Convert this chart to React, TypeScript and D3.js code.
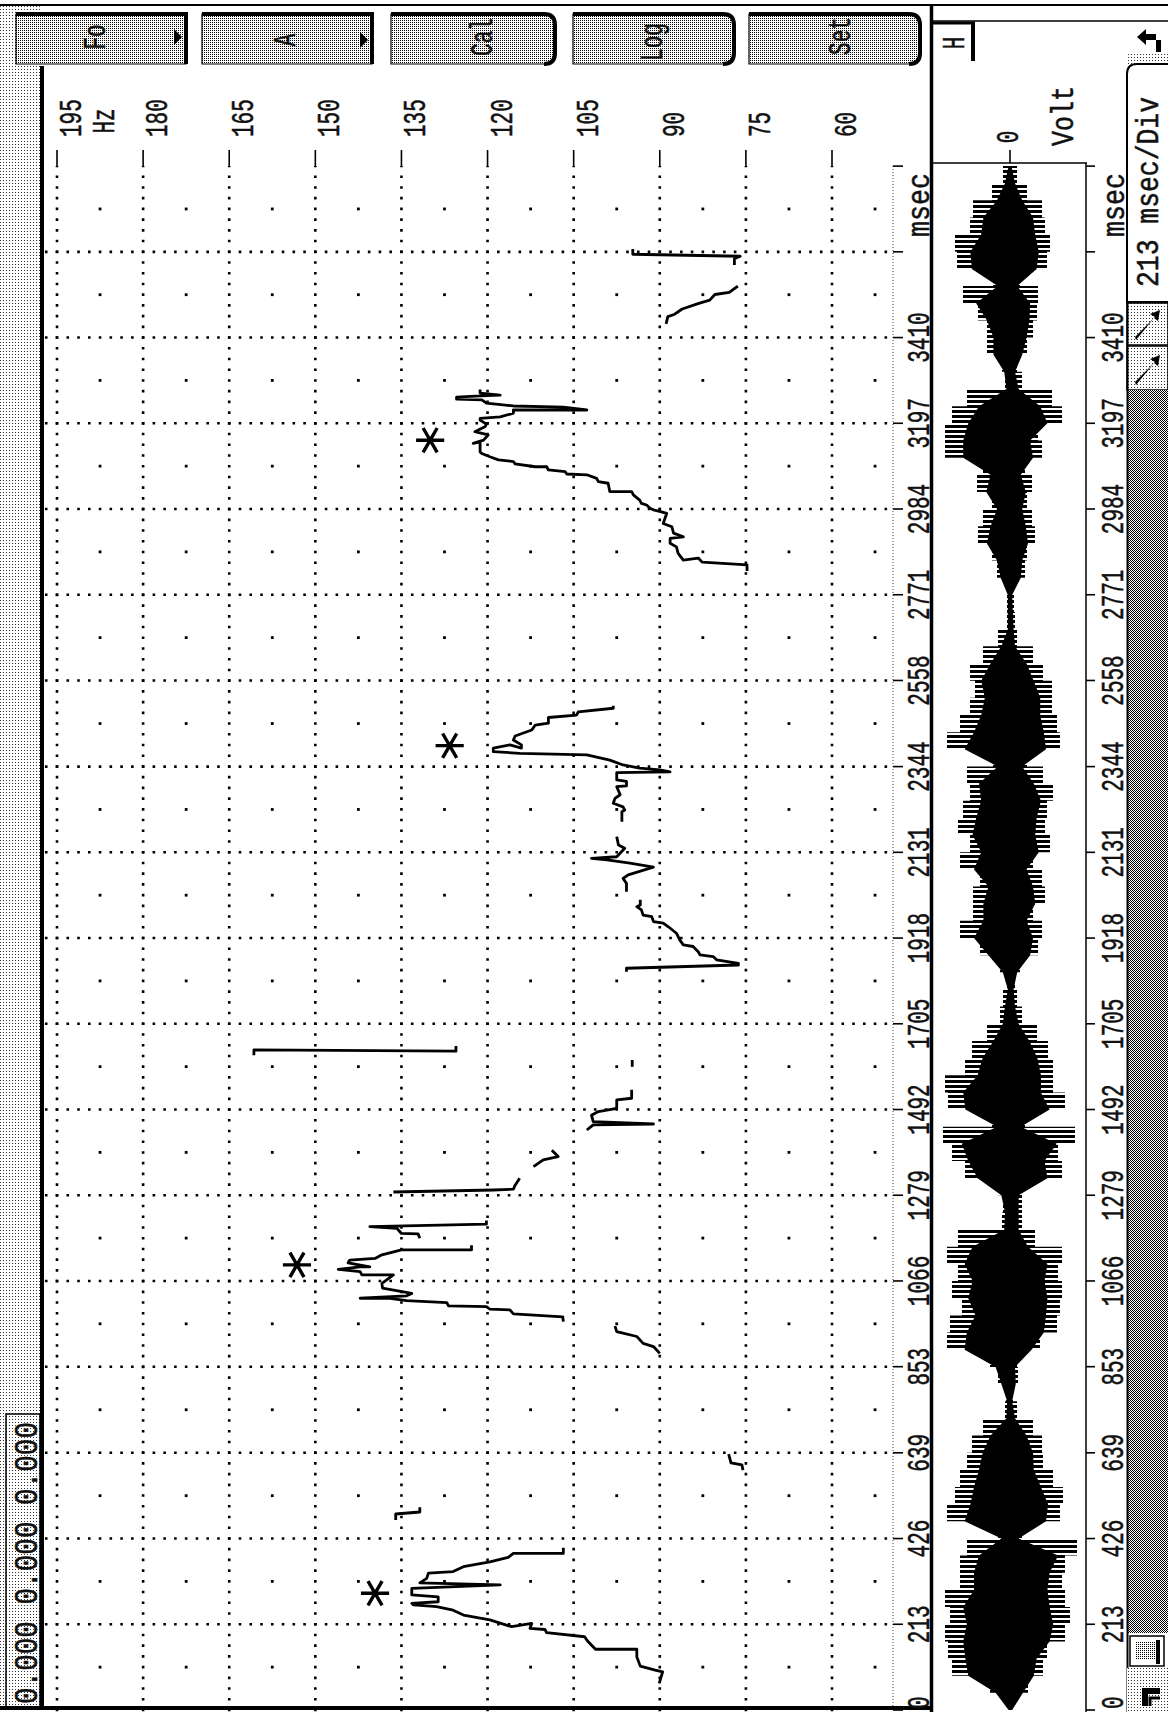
import React from 'react';
import * as d3 from 'd3';

const W = 1168;
const H = 1712;
const MONO = "'Liberation Mono', 'DejaVu Sans Mono', monospace";

// axes
const hzTicks = [195, 180, 165, 150, 135, 120, 105, 90, 75, 60];
const timeTicks = [0, 213, 426, 639, 853, 1066, 1279, 1492, 1705, 1918, 2131, 2344, 2558, 2771, 2984, 3197, 3410, 3623, 3836];
const timeLabels = ['213', '426', '639', '853', '1066', '1279', '1492', '1705', '1918', '2131', '2344', '2558', '2771', '2984', '3197', '3410'];

// F0 contour pieces, [msec, Hz]
const seg01 = [[66, 90.1], [95, 89.5], [99, 90.8], [109, 93.4], [132, 94.0], [151, 94.0], [151, 101.2], [170, 102.5], [182, 103.1], [192, 109.7], [200, 110.0], [203, 112.6], [215, 112.3], [207, 115.8], [224, 119.6], [236, 124.2], [248, 126.0], [257, 128.9], [261, 132.9], [265, 133.2], [269, 128.6], [281, 128.6], [286, 133.2], [302, 133.2], [311, 117.8], [316, 131.8], [327, 130.6], [340, 130.3], [344, 126.0], [356, 124.2], [368, 119.6], [379, 116.4], [389, 115.5], [389, 106.8], [403, 106.8]];
const seg02 = [[472, 136.0], [487, 136.0], [492, 131.8], [504, 131.8]];
const seg03 = [[596, 75.5], [609, 75.7], [614, 77.6], [636, 78.0]];
const seg04 = [[886, 90.0], [903, 91.1], [911, 92.9], [928, 94.0], [940, 97.5], [954, 97.8]];
const seg05 = [[965, 106.8], [977, 106.9], [984, 115.5], [994, 116.1], [996, 119.6], [1002, 120.2], [1004, 126.8], [1012, 127.1], [1017, 134.1], [1023, 137.0], [1023, 142.2], [1029, 134.1], [1035, 133.2], [1048, 138.3], [1060, 138.4], [1081, 136.4], [1081, 141.9], [1089, 142.2], [1095, 146.0], [1101, 142.2], [1101, 140.5], [1111, 144.3], [1118, 144.0], [1122, 139.6], [1131, 138.4], [1143, 135.0], [1143, 122.8], [1155, 122.8]];
const seg06 = [[1172, 131.8], [1183, 132.1], [1184, 135.0], [1197, 135.8], [1201, 140.5], [1207, 120.2], [1216, 120.2]];
const seg07 = [[1287, 136.4], [1292, 119.0], [1294, 115.5], [1304, 115.2], [1321, 114.4]];
const seg08 = [[1350, 112.0], [1367, 110.3], [1375, 107.7], [1391, 108.8]];
const seg09 = [[1441, 102.7], [1454, 101.6], [1456, 91.1], [1462, 101.6], [1478, 101.9], [1487, 100.7], [1495, 97.5], [1516, 97.5], [1520, 94.9], [1541, 94.9]];
const seg10 = [[1598, 94.8], [1615, 94.8]];
const seg11 = [[1627, 160.7], [1640, 160.7], [1637, 125.5], [1650, 125.5]];
const seg12 = [[1834, 95.8], [1843, 95.8], [1851, 76.3], [1855, 76.3], [1864, 80.1], [1872, 80.7], [1876, 83.0], [1884, 83.3], [1897, 84.2], [1901, 85.9], [1913, 86.5], [1930, 87.1], [1946, 88.5], [1955, 89.4], [1959, 91.1], [1971, 91.4], [1975, 92.9], [1988, 93.2], [1996, 94.0], [2000, 93.4], [2013, 93.4]];
const seg13 = [[2033, 95.8], [2054, 95.8], [2066, 96.4], [2075, 95.5], [2094, 91.1], [2104, 95.2], [2112, 99.2], [2116, 101.9], [2120, 97.5], [2141, 96.1], [2149, 97.2], [2170, 97.5]];
const seg14 = [[2207, 96.6], [2232, 96.6], [2236, 96.1], [2244, 96.4], [2253, 98.1], [2265, 97.8], [2274, 96.9], [2294, 97.5], [2296, 95.8], [2307, 95.8], [2311, 97.5], [2329, 97.5], [2331, 88.2], [2336, 90.0], [2340, 93.5], [2348, 96.4], [2360, 98.7], [2373, 102.7], [2377, 114.4], [2381, 119.0], [2390, 119.0], [2398, 116.1], [2390, 114.1], [2398, 114.1], [2410, 115.5], [2420, 115.2], [2435, 112.3], [2447, 111.7], [2452, 109.4], [2466, 109.4], [2472, 104.5], [2480, 104.2], [2489, 98.1], [2495, 98.1]];
const seg15 = [[2830, 74.8], [2845, 74.8], [2852, 82.6], [2862, 83.3], [2857, 85.9], [2874, 86.8], [2890, 87.1], [2899, 88.2], [2911, 88.2], [2915, 85.9], [2924, 87.6], [2940, 87.9], [2948, 89.4], [2973, 88.8], [2977, 89.7], [2982, 91.1], [2986, 91.7], [2994, 92.3], [2998, 93.2], [3006, 93.5], [3019, 94.6], [3027, 94.9], [3027, 98.7], [3048, 99.0], [3052, 100.7], [3060, 101.0], [3069, 102.7], [3071, 106.2], [3077, 106.5], [3081, 109.4], [3089, 109.7], [3089, 111.7], [3096, 115.2], [3102, 115.5], [3106, 118.1], [3114, 119.6], [3122, 121.0], [3126, 121.3], [3151, 121.3], [3147, 122.5], [3155, 120.7], [3168, 119.9], [3176, 122.2], [3189, 120.4], [3195, 120.2], [3205, 121.3], [3209, 121.3], [3213, 117.8], [3222, 115.5], [3230, 115.5], [3230, 102.7], [3237, 106.8], [3240, 115.5], [3247, 120.2], [3255, 121.0], [3257, 125.4], [3262, 125.4], [3265, 121.3], [3267, 117.8], [3272, 121.3], [3281, 121.3]];
const seg16 = [[3444, 88.9], [3462, 88.6], [3468, 87.4], [3481, 86.1], [3495, 83.2], [3503, 81.3], [3517, 80.4], [3522, 77.9], [3538, 76.4]];
const seg17 = [[3590, 77.0], [3606, 77.0], [3612, 76.0], [3617, 94.7], [3630, 94.7]];
const f0Segments = [seg01, seg02, seg03, seg04, seg05, seg06, seg07, seg08, seg09, seg10, seg11, seg12, seg13, seg14, seg15, seg16, seg17];

// accent marks [msec, Hz]
const accents = [[290, 139.6], [1106, 153.2], [2396, 126.6], [3155, 130.0]];

// oscillogram envelope, one value every 42.625 msec
const waveStep = 42.625;
const wavePos = [2, 20, 58, 62, 65, 60, 65, 50, 50, 43, 12, 63, 55, 50, 43, 38, 27, 5, 4, 12, 20, 63, 60, 48, 58, 52, 63, 52, 8, 7, 12, 45, 58, 67, 18, 62, 65, 45, 38, 23, 10, 7, 3, 10, 30, 50, 37, 37, 30, 50, 40, 52, 47, 40, 43, 17, 63, 50, 40, 35, 40, 27, 12, 3, 3, 3, 13, 18, 32, 27, 18, 33, 27, 65, 65, 58, 43, 5, 8, 23, 23, 32, 47, 17, 53, 55, 40, 37, 18, 7, 2];
const waveNeg = [3, 18, 33, 37, 55, 60, 55, 52, 55, 67, 12, 50, 53, 43, 33, 32, 23, 7, 3, 8, 7, 30, 47, 50, 52, 48, 52, 25, 12, 12, 12, 52, 48, 65, 15, 55, 43, 43, 38, 27, 12, 7, 5, 10, 28, 32, 23, 35, 32, 23, 40, 35, 37, 43, 33, 17, 50, 47, 42, 42, 33, 23, 7, 5, 4, 3, 15, 17, 25, 22, 17, 22, 15, 32, 28, 52, 42, 12, 7, 17, 23, 27, 28, 10, 37, 40, 35, 32, 17, 7, 2];

const x = d3.scaleLinear().domain([195, 60]).range([57, 832]);
const y = d3.scaleLinear().domain([0, 3836.25]).range([1710, 166]);
const amp = d3.scaleLinear().domain([-75, 75]).range([1085, 935]);

const plot = { l: 42, r: 893, t: 166, b: 1708 };

const VText = ({ x, y, anchor = 'middle', len, size = 21, children }: any) => (
  <text
    transform={`translate(${x},${y}) rotate(-90) scale(1,1.5)`}
    textAnchor={anchor}
    fontSize={size}
    fontFamily={MONO}
    fill="#111"
    stroke="#111"
    strokeWidth={0.35}
    textLength={len}
    lengthAdjust={len ? 'spacingAndGlyphs' : undefined}
  >
    {children}
  </text>
);

const Button = ({ x1, x2, label, lx, ly, arrow, round }: any) => {
  const y1 = 14, y2 = 64, r = round ? 11 : 0;
  const body = round
    ? `M${x1},${y1}H${x2 - r}Q${x2},${y1} ${x2},${y1 + r}V${y2 - r}Q${x2},${y2} ${x2 - r},${y2}H${x1}Z`
    : `M${x1},${y1}H${x2}V${y2}H${x1}Z`;
  const shade = round
    ? `M${x1},${y1}H${x2 - r}Q${x2},${y1} ${x2},${y1 + r}V${y2 - r}Q${x2},${y2} ${x2 - r},${y2}`
    : `M${x1},${y1}H${x2}V${y2}`;
  return (
    <g>
      <path d={body} fill="url(#lite)" stroke="#000" strokeWidth={1.2} />
      <path d={shade} fill="none" stroke="#000" strokeWidth={4} />
      {arrow && <path d={`M${x2 - 12},${ly - 8}L${x2 - 4},${ly}L${x2 - 12},${ly + 8}Z`} fill="#000" />}
      <VText x={lx} y={ly}>{label}</VText>
    </g>
  );
};

const buttons = [
  { x1: 16, x2: 186, label: 'Fo', lx: 105, ly: 37, arrow: true },
  { x1: 202, x2: 372, label: 'A', lx: 295, ly: 40, arrow: true },
  { x1: 391, x2: 555, label: 'Cal', lx: 492, ly: 37, round: true },
  { x1: 573, x2: 734, label: 'Log', lx: 662, ly: 42, round: true },
  { x1: 749, x2: 920, label: 'Set', lx: 850, ly: 36, round: true },
];

export default function App() {
  const stepY = (y(0) - y(213.125)) / 8;
  const stepX = (x(180) - x(195)) / 8;
  const dot = 2.6;

  const hzMid = hzTicks.map((h) => h - 7.5);
  const tMid = timeTicks.slice(0, -1).map((t, i) => (t + timeTicks[i + 1]) / 2);

  const line = d3.line<number[]>().x((d) => x(d[1])).y((d) => y(d[0]));

  const waveRows = wavePos.map((p, i) => ({ t: i * waveStep, p, n: waveNeg[i] }));
  // dense body plus a striped fringe out to the peak envelope
  const waveCore = d3
    .area<any>()
    .y((d) => y(d.t))
    .x0((d) => amp(-d.n * 0.72))
    .x1((d) => amp(d.p * 0.72))
    .curve(d3.curveLinear);
  const waveOuter = d3
    .area<any>()
    .y((d) => y(d.t))
    .x0((d) => amp(-d.n))
    .x1((d) => amp(d.p))
    .curve(d3.curveStepBefore);

  const star = d3.symbol(d3.symbolAsterisk, 560)();

  return (
    <div style={{ position: 'absolute', left: 0, top: 0 }}>
      <svg width={W} height={H} style={{ display: 'block', background: '#fff' }}>
        <defs>
          <pattern id="lite" width="2" height="2" patternUnits="userSpaceOnUse">
            <rect width="2" height="2" fill="#fff" />
            <rect width="1" height="1" fill="#000" />
          </pattern>
          <pattern id="pale" width="3" height="3" patternUnits="userSpaceOnUse">
            <rect width="3" height="3" fill="#fff" />
            <rect width="1" height="1" fill="#333" />
          </pattern>
          <pattern id="dark" width="2" height="2" patternUnits="userSpaceOnUse">
            <rect width="2" height="2" fill="#fff" />
            <rect width="1" height="1" fill="#000" />
            <rect x="1" y="1" width="1" height="1" fill="#000" />
          </pattern>
          <pattern id="hatch" width="8" height="5" patternUnits="userSpaceOnUse">
            <rect width="8" height="5" fill="#fff" />
            <rect width="8" height="3" fill="#000" />
          </pattern>
        </defs>

        {/* window frame */}
        <rect x={0} y={6} width={40} height={1702} fill="url(#pale)" />
        <line x1={0} x2={W} y1={5} y2={5} stroke="#000" strokeWidth={2} />
        <rect x={6} y={1414} width={34} height={294} fill="url(#pale)" stroke="#000" strokeWidth={1.5} />
        <VText x={37} y={1704} anchor="start" len={282} size={22}>0.000 0.000 0.000</VText>

        {buttons.map((b) => <Button key={b.label} {...b} />)}

        {/* grid */}
        {hzTicks.map((h) => (
          <line key={'v' + h} x1={x(h)} x2={x(h)} y1={y(0) + dot / 2} y2={plot.t}
            stroke="#000" strokeWidth={dot} strokeDasharray={`${dot} ${stepY - dot}`} />
        ))}
        {timeTicks.slice(1, -1).map((t) => (
          <line key={'h' + t} x1={x(195) - stepX - dot / 2} x2={plot.r} y1={y(t)} y2={y(t)}
            stroke="#000" strokeWidth={dot} strokeDasharray={`${dot} ${stepX - dot}`} />
        ))}
        {hzMid.map((h) => tMid.map((t) => (
          <rect key={h + '-' + t} x={x(h) - 1.4} y={y(t) - 1.4} width={2.8} height={2.8} fill="#000" />
        )))}

        {/* plot frame */}
        <line x1={plot.l} x2={plot.l} y1={66} y2={1710} stroke="#000" strokeWidth={4} />
        <line x1={0} x2={933} y1={plot.b} y2={plot.b} stroke="#000" strokeWidth={4} />
        <line x1={plot.r} x2={plot.r} y1={plot.t} y2={plot.b} stroke="#444" strokeWidth={1} strokeDasharray="1 2" />

        {/* Hz axis */}
        {hzTicks.map((h) => (
          <g key={'hz' + h}>
            <line x1={x(h)} x2={x(h)} y1={150} y2={plot.t} stroke="#000" strokeWidth={1.6} />
            <VText x={x(h) + 24} y={137} anchor="start">{String(h)}</VText>
          </g>
        ))}
        <VText x={114} y={121}>Hz</VText>

        {/* time axis, pitch panel */}
        {timeTicks.map((t) => (
          <line key={'lt' + t} x1={plot.r} x2={plot.r + 10} y1={y(t)} y2={y(t)} stroke="#000" strokeWidth={1.6} />
        ))}
        {timeLabels.map((s) => <VText key={'ll' + s} x={929} y={y(+s)}>{s}</VText>)}
        <VText x={929} y={1709} anchor="start">0</VText>
        <VText x={929} y={205} len={64}>msec</VText>

        {/* F0 contour */}
        {f0Segments.map((s, i) => (
          <path key={'s' + i} d={line(s) || ''} fill="none" stroke="#000" strokeWidth={2.8} strokeLinejoin="round" />
        ))}
        {accents.map(([t, h], i) => (
          <path key={'a' + i} d={star || ''} transform={`translate(${x(h)},${y(t)}) rotate(90)`}
            fill="none" stroke="#000" strokeWidth={3.4} />
        ))}

        {/* oscillogram panel */}
        <line x1={931.5} x2={931.5} y1={6} y2={H} stroke="#000" strokeWidth={3.5} />
        <line x1={931} x2={W} y1={21} y2={21} stroke="#000" strokeWidth={1.5} />
        <line x1={931} x2={975} y1={23} y2={23} stroke="#000" strokeWidth={3} />
        <line x1={973} x2={973} y1={22} y2={61} stroke="#000" strokeWidth={4} />
        <VText x={964} y={43}>H</VText>
        <line x1={933} x2={amp(-75) + 2} y1={163} y2={163} stroke="#000" strokeWidth={1.5} />
        <line x1={amp(-75) + 1} x2={amp(-75) + 1} y1={163} y2={H} stroke="#000" strokeWidth={1.5} />
        {timeTicks.map((t) => (
          <line key={'rt' + t} x1={amp(-75) + 1} x2={amp(-75) + 10} y1={y(t)} y2={y(t)} stroke="#000" strokeWidth={1.6} />
        ))}
        <line x1={amp(0)} x2={amp(0)} y1={150} y2={163} stroke="#000" strokeWidth={1.6} />
        <VText x={1018} y={137}>0</VText>
        <VText x={1073} y={116} len={60}>Volt</VText>
        <line x1={amp(0)} x2={amp(0)} y1={y(0)} y2={y(3836.25)} stroke="#000" strokeWidth={3} />
        <path d={waveOuter(waveRows) || ''} fill="url(#hatch)" />
        <path d={waveCore(waveRows) || ''} fill="#000" />
        {timeLabels.map((s) => <VText key={'rl' + s} x={1123} y={y(+s)}>{s}</VText>)}
        <VText x={1123} y={1709} anchor="start">0</VText>
        <VText x={1124} y={205} len={64}>msec</VText>

        {/* right-hand controls */}
        <path d="M1137,37 L1146,29 L1146,34 L1156,34 L1156,52 L1161,52 L1161,40 L1146,40 L1146,45 Z" fill="#000" />
        <rect x={1128} y={52} width={40} height={12} fill="url(#pale)" />
        <path d={`M${W},64 H1137 Q1127,64 1127,74 V302 H${W}`} fill="#fff" stroke="#000" strokeWidth={2} />
        <VText x={1158} y={192} len={190}>213 msec/Div</VText>
        <rect x={1127} y={303} width={41} height={42} fill="url(#pale)" stroke="#000" strokeWidth={1.5} />
        <path d="M1135,337 L1155,317 L1150,314 L1160,310 L1158,321 L1154,318 L1136,340 Z" fill="#000" />
        <rect x={1127} y={346} width={41} height={44} fill="url(#pale)" stroke="#000" strokeWidth={1.5} />
        <path d="M1135,382 L1155,362 L1150,359 L1160,355 L1158,366 L1154,363 L1136,385 Z" fill="#000" />
        <rect x={1127} y={390} width={41} height={1243} fill="url(#dark)" />
        <line x1={1127.5} x2={1127.5} y1={302} y2={H} stroke="#000" strokeWidth={2} />
        <rect x={1130} y={1636} width={34} height={30} fill="#fff" stroke="#000" strokeWidth={1.5} />
        <rect x={1136} y={1641} width={20} height={18} fill="url(#lite)" />
        <line x1={1158} x2={1158} y1={1640} y2={1664} stroke="#000" strokeWidth={4} />
        <rect x={1127} y={1668} width={41} height={44} fill="url(#pale)" />
        <path d="M1142,1706 V1688 H1160 V1694 H1148 V1706 Z" fill="#000" />
        <path d="M1150,1706 V1698 H1160" fill="none" stroke="#000" strokeWidth={3} />
      </svg>
    </div>
  );
}
